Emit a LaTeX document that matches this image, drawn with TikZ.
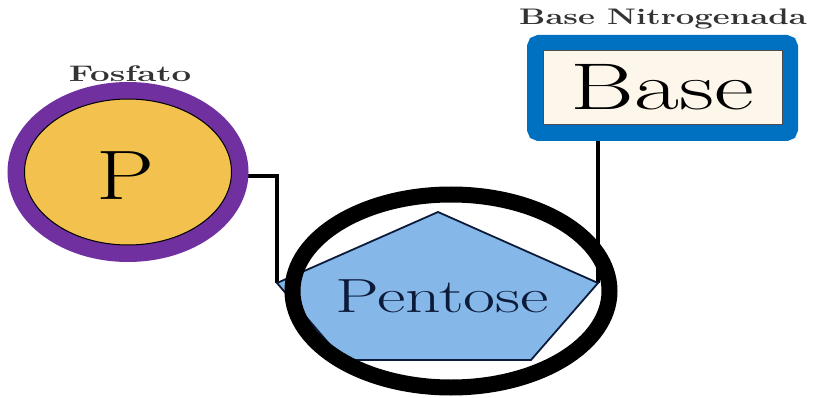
\documentclass[tikz,border=0pt]{standalone}
\usetikzlibrary{shapes.geometric,calc}
\pgfdeclarelayer{bg}
\pgfsetlayers{bg,main}
\definecolor{ppurple}{HTML}{7030A0}
\definecolor{pyellow}{HTML}{F2C14E}
\definecolor{bblue}{HTML}{0070C0}
\definecolor{bbeige}{HTML}{FDF6EA}
\definecolor{pentblue}{HTML}{85B8E8}
\definecolor{navy}{HTML}{0D1B3A}
\tikzset{
  lbl/.style={anchor=base, inner sep=0pt, font=\fontsize{22.5}{26}\selectfont\bfseries, text=black!80},
  conn/.style={line width=4pt, black},
}
\begin{document}
\begin{tikzpicture}[x=1pt,y=-1pt]
\useasboundingbox (0,0) rectangle (813,398);
% phosphate
\node[ellipse, draw=ppurple, line width=17pt, fill=pyellow, minimum width=224pt, minimum height=163pt, inner sep=0pt] (P) at (128,172) {};
\node[ellipse, draw=black, line width=1pt, minimum width=207pt, minimum height=146pt, inner sep=0pt] (Pin) at (128,172) {};
\node[anchor=base, inner sep=0pt, font=\fontsize{70}{80}\selectfont] (Ptxt) at (126,200) {\scalebox{1.32}[1]{P}};
\node[lbl] (fosf) at (130,82) {\scalebox{1.55}[1]{Fosfato}};
% base
\node[draw=bblue, line width=16pt, fill=bbeige, rounded corners=4pt, minimum width=255pt, minimum height=90pt, inner sep=0pt] (B) at (662.5,88) {};
\draw[line width=1pt, black!70] ([shift={(16,16)}]B.north west) rectangle ([shift={(-16,-16)}]B.south east);
\node[anchor=base, inner sep=0pt, font=\fontsize{66}{76}\selectfont] (Btxt) at (662,110) {\scalebox{1.48}[1]{Base}};
\node[lbl] (bnit) at (663,25) {\scalebox{1.46}[1]{Base Nitrogenada}};
% pentose
\coordinate (pt) at (438,212);
\coordinate (pr) at (598,283);
\coordinate (pbr) at (531,360);
\coordinate (pbl) at (343,360);
\coordinate (pl) at (277,283);
\draw[fill=pentblue, draw=navy, line width=1.8pt, line join=miter] (pt) -- (pr) -- (pbr) -- (pbl) -- (pl) -- cycle;
\node[anchor=base, inner sep=0pt, text=navy, font=\fontsize{48}{56}\selectfont] (pent) at (442,312) {\scalebox{1.45}[1]{Pentose}};
\node[ellipse, draw=black, line width=16pt, minimum width=317pt, minimum height=193pt, inner sep=0pt] (ring) at (451,291) {};
% connectors
\begin{pgfonlayer}{bg}
\draw[conn] ([yshift=-4pt]P.center) -| (pl);
\draw[conn] (pr) -- (pr |- B.center);
\end{pgfonlayer}
\end{tikzpicture}
\end{document}
